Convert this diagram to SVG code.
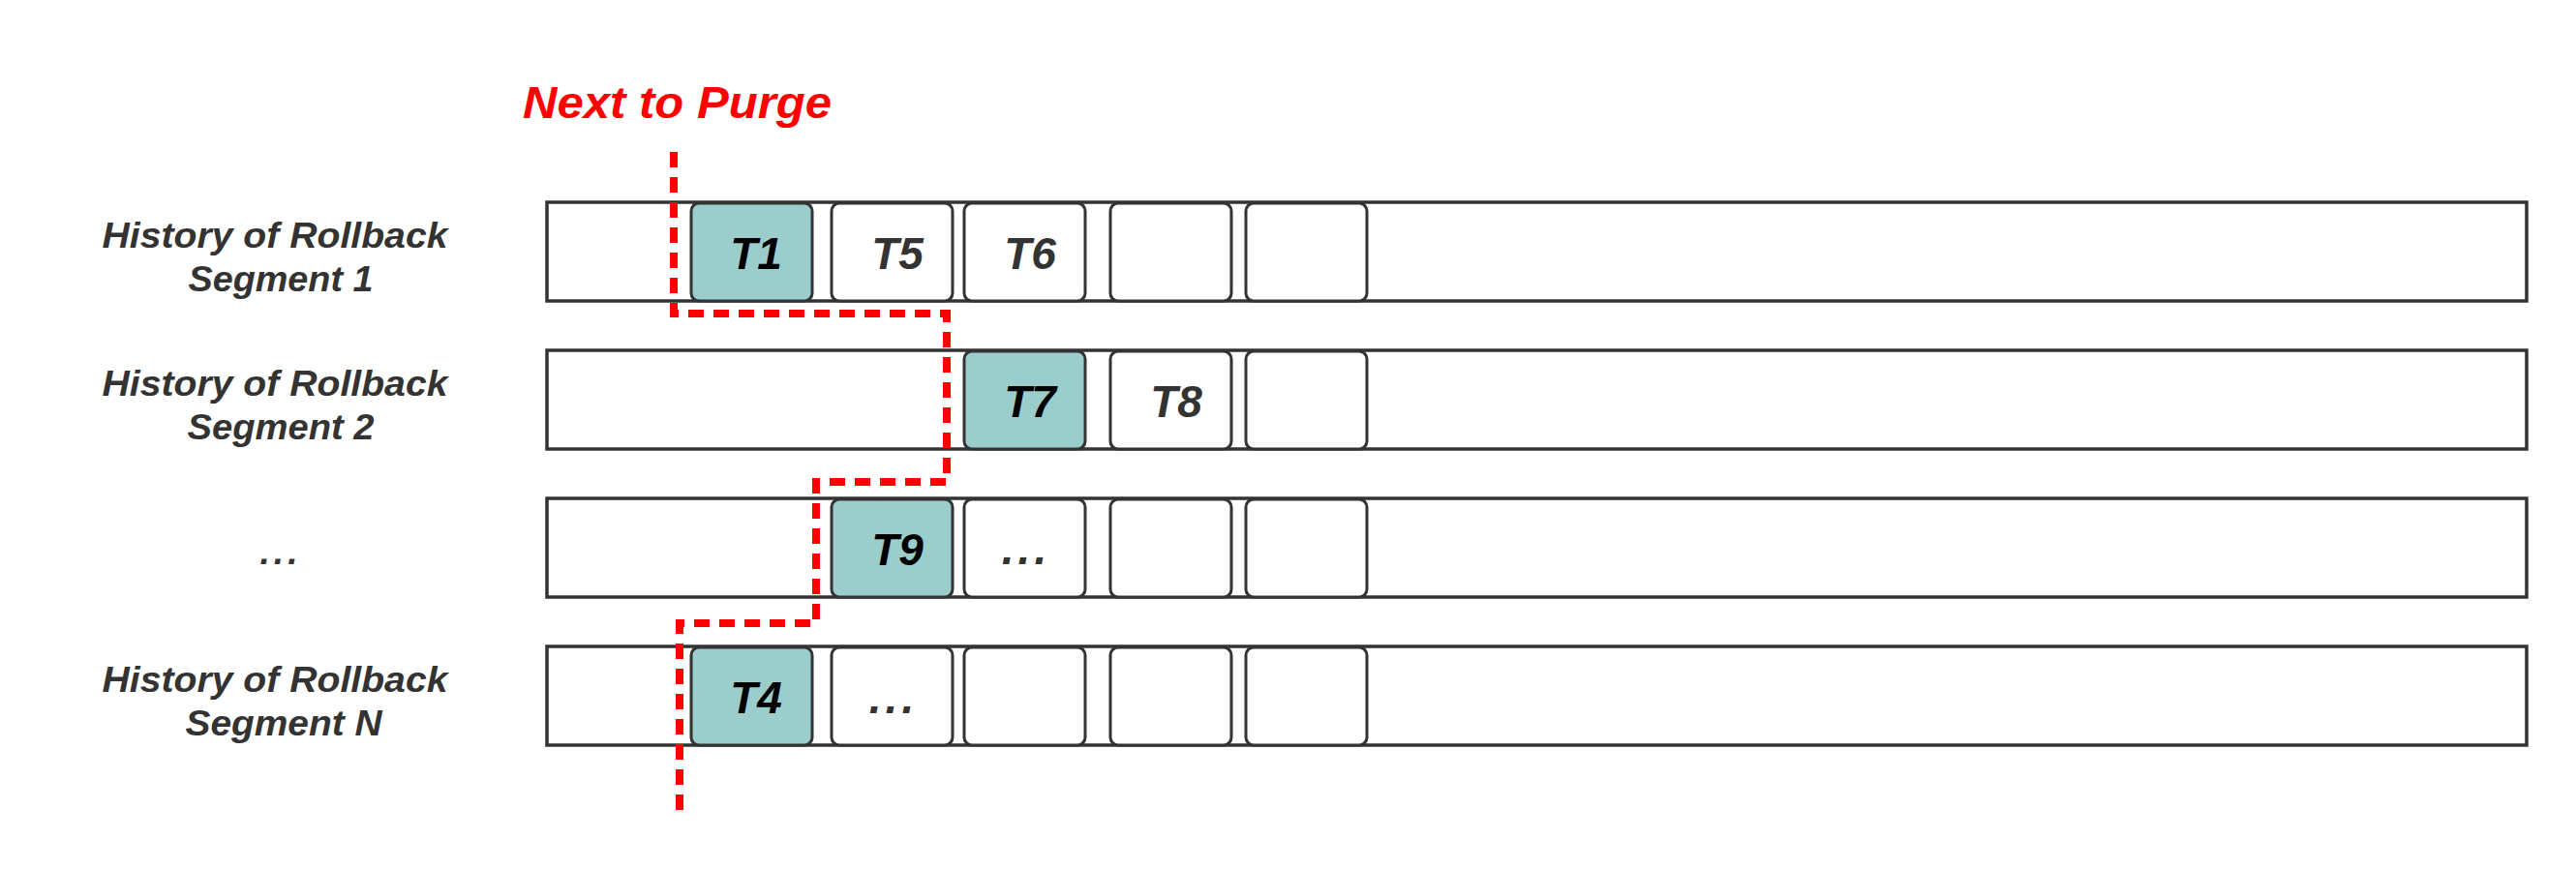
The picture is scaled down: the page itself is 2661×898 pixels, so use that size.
<svg xmlns="http://www.w3.org/2000/svg" width="2661" height="898" viewBox="0 0 2661 898">
<style>
.row{fill:#fff;stroke:#333;stroke-width:3.5}
.cell{fill:#fff;stroke:#333;stroke-width:3}
.hot{fill:#9CCDCD}
.lbl{font-family:"Liberation Sans",Arial,sans-serif;font-style:italic;font-weight:bold;font-size:37px;fill:#333;text-anchor:middle}
.ct{font-family:"Liberation Sans",Arial,sans-serif;font-style:italic;font-weight:bold;font-size:46px;fill:#333;text-anchor:middle}
.ctk{fill:#000}
.title{font-family:"Liberation Sans",Arial,sans-serif;font-style:italic;font-weight:bold;font-size:46px;fill:#FF0000}
.purge{fill:none;stroke:#FF0000;stroke-width:8;stroke-dasharray:16 10}
</style>
<rect width="2661" height="898" fill="#fff"/>
<text class="title" x="540" y="122" textLength="319" lengthAdjust="spacingAndGlyphs">Next to Purge</text>

<g id="label1">
<text class="lbl" x="284" y="256" textLength="357" lengthAdjust="spacingAndGlyphs">History of Rollback</text>
<text class="lbl" x="290" y="301" textLength="191" lengthAdjust="spacingAndGlyphs">Segment 1</text>
</g>
<g id="label2">
<text class="lbl" x="284" y="409" textLength="357" lengthAdjust="spacingAndGlyphs">History of Rollback</text>
<text class="lbl" x="290" y="454" textLength="193" lengthAdjust="spacingAndGlyphs">Segment 2</text>
</g>
<g id="label3">
<text class="lbl" x="290" y="583" style="letter-spacing:4px">...</text>
</g>
<g id="label4">
<text class="lbl" x="284" y="715" textLength="357" lengthAdjust="spacingAndGlyphs">History of Rollback</text>
<text class="lbl" x="293" y="760" textLength="203" lengthAdjust="spacingAndGlyphs">Segment N</text>
</g>

<g id="row1">
<rect class="row" x="565" y="209" width="2045" height="102"/>
<g id="r1c1"><rect class="cell hot" x="714" y="210" width="125" height="101" rx="8"/><text class="ct ctk" x="781" y="278">T1</text></g>
<g id="r1c2"><rect class="cell" x="859" y="210" width="125" height="101" rx="8"/><text class="ct" x="927" y="278">T5</text></g>
<g id="r1c3"><rect class="cell" x="996" y="210" width="125" height="101" rx="8"/><text class="ct" x="1064" y="278">T6</text></g>
<g id="r1c4"><rect class="cell" x="1147" y="210" width="125" height="101" rx="8"/></g>
<g id="r1c5"><rect class="cell" x="1287" y="210" width="125" height="101" rx="8"/></g>
</g>

<g id="row2">
<rect class="row" x="565" y="362" width="2045" height="102"/>
<g id="r2c3"><rect class="cell hot" x="996" y="363" width="125" height="101" rx="8"/><text class="ct ctk" x="1064" y="431">T7</text></g>
<g id="r2c4"><rect class="cell" x="1147" y="363" width="125" height="101" rx="8"/><text class="ct" x="1215" y="431">T8</text></g>
<g id="r2c5"><rect class="cell" x="1287" y="363" width="125" height="101" rx="8"/></g>
</g>

<g id="row3">
<rect class="row" x="565" y="515" width="2045" height="102"/>
<g id="r3c2"><rect class="cell hot" x="859" y="516" width="125" height="101" rx="8"/><text class="ct ctk" x="927" y="584">T9</text></g>
<g id="r3c3"><rect class="cell" x="996" y="516" width="125" height="101" rx="8"/><text class="ct" x="1060" y="583" style="letter-spacing:4px">...</text></g>
<g id="r3c4"><rect class="cell" x="1147" y="516" width="125" height="101" rx="8"/></g>
<g id="r3c5"><rect class="cell" x="1287" y="516" width="125" height="101" rx="8"/></g>
</g>

<g id="row4">
<rect class="row" x="565" y="668" width="2045" height="102"/>
<g id="r4c1"><rect class="cell hot" x="714" y="669" width="125" height="101" rx="8"/><text class="ct ctk" x="781" y="737">T4</text></g>
<g id="r4c2"><rect class="cell" x="859" y="669" width="125" height="101" rx="8"/><text class="ct" x="923" y="737" style="letter-spacing:4px">...</text></g>
<g id="r4c3"><rect class="cell" x="996" y="669" width="125" height="101" rx="8"/></g>
<g id="r4c4"><rect class="cell" x="1147" y="669" width="125" height="101" rx="8"/></g>
<g id="r4c5"><rect class="cell" x="1287" y="669" width="125" height="101" rx="8"/></g>
</g>

<g id="connectors">
<path class="purge" d="M696,157 V324 H978 V498 H843 V644 H702 V842"/>
</g>
</svg>
